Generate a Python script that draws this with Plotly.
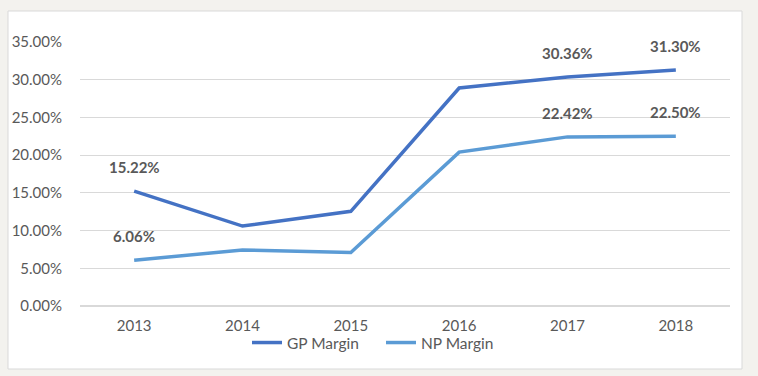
import plotly.graph_objects as go

years = ["2013", "2014", "2015", "2016", "2017", "2018"]
gp_margin = [0.1522, 0.106, 0.1255, 0.289, 0.3036, 0.3130]
np_margin = [0.0606, 0.0743, 0.071, 0.204, 0.2242, 0.2250]
gp_labels = ["15.22%", "", "", "", "30.36%", "31.30%"]
np_labels = ["6.06%", "", "", "", "22.42%", "22.50%"]

GP_COLOR = "#4472C4"
NP_COLOR = "#5B9BD5"
TXT = "#595959"
FONT = "Lato, 'Noto Sans', sans-serif"

fig = go.Figure()
fig.add_trace(go.Scatter(x=years, y=gp_margin, mode="lines", name="GP Margin",
                         line=dict(color=GP_COLOR, width=3.5)))
fig.add_trace(go.Scatter(x=years, y=np_margin, mode="lines", name="NP Margin",
                         line=dict(color=NP_COLOR, width=3.5)))

annotations = []
for ys, labels in [(gp_margin, gp_labels), (np_margin, np_labels)]:
    for i, (y, t) in enumerate(zip(ys, labels)):
        if t:
            annotations.append(dict(x=i, y=y, xref="x", yref="y", text="<b>%s</b>" % t,
                                    showarrow=False, yshift=24,
                                    font=dict(family=FONT, size=15, color=TXT)))

fig.update_layout(
    width=758, height=376,
    paper_bgcolor="#f3f2ee",
    plot_bgcolor="white",
    margin=dict(l=80, r=28, t=42, b=70, autoexpand=False),
    font=dict(family=FONT, size=15, color=TXT),
    showlegend=True,
    legend=dict(orientation="h", x=(381 - 80) / 650, xanchor="center", y=-0.14, yanchor="middle",
                font=dict(size=15.5, color=TXT), bgcolor="rgba(0,0,0,0)",
                entrywidth=89, entrywidthmode="pixels"),
    annotations=annotations,
    shapes=[dict(type="rect", xref="paper", yref="paper",
                 x0=(8 - 80) / 650, x1=(742 - 80) / 650,
                 y0=-(369 - 306) / 264, y1=(306 - 11) / 264,
                 fillcolor="white", line=dict(color="#d9d9d9", width=1), layer="below")],
)
fig.update_xaxes(type="category", range=[-0.5, 5.5], showgrid=False, showline=False, ticks="",
                 ticklabelstandoff=9, tickfont=dict(size=15, color=TXT))
fig.update_yaxes(range=[0, 0.35], dtick=0.05, tickformat=".2%", showgrid=True,
                 gridcolor="#d9d9d9", gridwidth=1, zeroline=True, zerolinecolor="#d9d9d9",
                 showline=False, ticks="", ticklabelstandoff=17,
                 tickfont=dict(size=15, color=TXT))

fig.write_html("out.html", config={"displayModeBar": False},
               post_script="document.body.style.margin='0';document.body.style.background='#f3f2ee';")
